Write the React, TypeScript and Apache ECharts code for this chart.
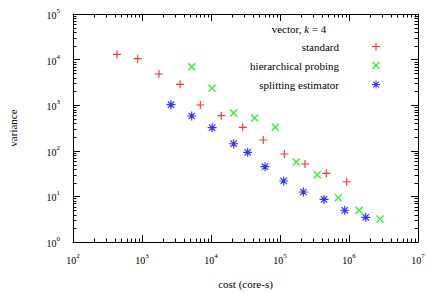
import React, { useEffect, useRef } from 'react';
import * as echarts from 'echarts';

const seriesNames = ['standard', 'hierarchical probing', 'splitting estimator'];
const standardCost = [434, 866, 1760, 3560, 7000, 14100, 28800, 57300, 115700, 230000, 469000, 925000];
const standardVar = [13000, 10500, 4830, 2870, 1010, 589, 327, 173, 85, 51.4, 32, 21];
const hierCost = [5250, 10400, 21300, 43000, 85500, 172000, 347000, 700000, 1400000, 2810000];
const hierVar = [7000, 2340, 675, 524, 327, 56.8, 29.9, 9.4, 4.96, 3.19];
const splitCost = [2630, 5250, 10400, 21300, 34000, 60700, 113000, 218000, 435000, 867000, 1750000];
const splitVar = [1026, 579, 321, 143, 92.7, 44.8, 21.8, 12.5, 8.6, 4.96, 3.48];
const xRange = [1e2, 1e7];
const yRange = [1e0, 1e5];
const titleText = 'vector, {i|k} = 4';
const xName = 'cost (core-s)';
const yName = 'variance';

const FONT = "'Liberation Serif', 'Times New Roman', serif";

function minorTicks(lo: number, hi: number): number[] {
  const out: number[] = [];
  for (let d = lo; d < hi; d *= 10) {
    for (let m = 2; m <= 9; m++) out.push(m * d);
  }
  return out;
}

function rotPath(pts: number[][], ang: number): string {
  const c = Math.cos(ang), s = Math.sin(ang);
  const r = pts.map(([x, y]) => {
    const dx = x - 5, dy = y - 5;
    return [5 + dx * c - dy * s, 5 + dx * s + dy * c];
  });
  return 'M' + r.map((p) => p[0].toFixed(3) + ',' + p[1].toFixed(3)).join('L') + 'Z';
}
function plusPts(t: number): number[][] {
  const a = 5 - t / 2, b = 5 + t / 2;
  return [[a, 0], [b, 0], [b, a], [10, a], [10, b], [b, b], [b, 10], [a, 10], [a, b], [0, b], [0, a], [a, a]];
}
const plusSym = 'path://' + rotPath(plusPts(1.4), 0);
const crossSym = 'path://' + rotPath(plusPts(1.4), Math.PI / 4);
const starSym = 'path://' + rotPath(plusPts(1.3), 0) + rotPath(plusPts(1.3), Math.PI / 4);

const supFormatter = (v: number) => {
  const e = Math.round(Math.log10(v));
  return `{b|10}{s|${e}}`;
};
const richLabel = {
  b: { fontFamily: FONT, fontSize: 10, color: '#000', padding: [3, 0, 0, 0] },
  s: { fontFamily: FONT, fontSize: 7, color: '#000', verticalAlign: 'top', padding: [0, 0, 3, 0] },
};

export default function App() {
  const ref = useRef<HTMLDivElement>(null);
  useEffect(() => {
    if (!ref.current) return;
    const chart = echarts.init(ref.current, undefined, { renderer: 'svg' });
    const xMinor = minorTicks(xRange[0], xRange[1]);
    const yMinor = minorTicks(yRange[0], yRange[1]);
    const axisLine = { show: true, lineStyle: { color: '#000', width: 1 } };
    const tick = { show: true, inside: true, length: 7, lineStyle: { color: '#000' } };
    const tickStyle = { stroke: '#000', lineWidth: 1 };
    chart.setOption({
      animation: false,
      textStyle: { fontFamily: FONT },
      grid: { left: 73, right: 10, top: 14, bottom: 51, containLabel: false, outerBoundsMode: 'none' },
      xAxis: [
        {
          type: 'log', logBase: 10, min: xRange[0], max: xRange[1], position: 'bottom',
          axisLine, axisTick: tick, splitLine: { show: false },
          axisLabel: { formatter: supFormatter, rich: richLabel, margin: 10, fontFamily: FONT },
          name: xName, nameLocation: 'middle', nameGap: 36,
          nameTextStyle: { fontFamily: FONT, fontSize: 11, color: '#000' },
        },
        {
          type: 'log', logBase: 10, min: xRange[0], max: xRange[1], position: 'top',
          axisLine, axisTick: tick, splitLine: { show: false }, axisLabel: { show: false },
        },
      ],
      yAxis: [
        {
          type: 'log', logBase: 10, min: yRange[0], max: yRange[1], position: 'left',
          axisLine, axisTick: tick, splitLine: { show: false },
          axisLabel: { formatter: supFormatter, rich: richLabel, margin: 13, fontFamily: FONT },
          name: yName, nameLocation: 'middle', nameGap: 55, nameRotate: 90,
          nameTextStyle: { fontFamily: FONT, fontSize: 11, color: '#000' },
        },
        {
          type: 'log', logBase: 10, min: yRange[0], max: yRange[1], position: 'right',
          axisLine, axisTick: tick, splitLine: { show: false }, axisLabel: { show: false },
        },
      ],
      legend: {
        orient: 'vertical', right: 48, top: 41, align: 'right', padding: 0,
        itemWidth: 8, itemHeight: 8, itemGap: 8,
        textStyle: { fontFamily: FONT, fontSize: 11, color: '#000', padding: [0, 28, 0, 0] },
        data: seriesNames,
      },
      graphic: [
        {
          type: 'text', x: 299, y: 29,
          style: {
            text: titleText, fontFamily: FONT, fontSize: 11, fill: '#000',
            align: 'center', verticalAlign: 'middle',
            rich: { i: { fontFamily: FONT, fontSize: 11, fontStyle: 'italic', fill: '#000' } },
          },
        },
      ],
      series: [
        {
          type: 'custom', silent: true, xAxisIndex: 0, yAxisIndex: 0, z: 5,
          data: xMinor.map((v) => [v, 1]),
          renderItem: (params: any, api: any) => {
            const cs = params.coordSys;
            const x = Math.round(api.coord([api.value(0), 1])[0]) + 0.5;
            const b = cs.y + cs.height, t = cs.y;
            return {
              type: 'group',
              children: [
                { type: 'line', shape: { x1: x, y1: b, x2: x, y2: b - 3.5 }, style: tickStyle },
                { type: 'line', shape: { x1: x, y1: t, x2: x, y2: t + 3.5 }, style: tickStyle },
              ],
            };
          },
        },
        {
          type: 'custom', silent: true, xAxisIndex: 0, yAxisIndex: 0, z: 5,
          data: yMinor.map((v) => [100, v]),
          renderItem: (params: any, api: any) => {
            const cs = params.coordSys;
            const y = Math.round(api.coord([100, api.value(1)])[1]) + 0.5;
            const l = cs.x, r = cs.x + cs.width;
            return {
              type: 'group',
              children: [
                { type: 'line', shape: { x1: l, y1: y, x2: l + 3.5, y2: y }, style: tickStyle },
                { type: 'line', shape: { x1: r, y1: y, x2: r - 3.5, y2: y }, style: tickStyle },
              ],
            };
          },
        },
        {
          name: seriesNames[0], type: 'scatter', symbol: plusSym, symbolSize: 8,
          itemStyle: { color: '#ff0000' },
          data: standardCost.map((c, i) => [c, standardVar[i]]),
        },
        {
          name: seriesNames[1], type: 'scatter', symbol: crossSym, symbolSize: 8,
          itemStyle: { color: '#00ee00' },
          data: hierCost.map((c, i) => [c, hierVar[i]]),
        },
        {
          name: seriesNames[2], type: 'scatter', symbol: starSym, symbolSize: 9,
          itemStyle: { color: '#0000ff' },
          data: splitCost.map((c, i) => [c, splitVar[i]]),
        },
      ],
    });
    return () => chart.dispose();
  }, []);
  return <div ref={ref} style={{ width: 428, height: 293, position: 'absolute', left: 0, top: 0 }} />;
}
